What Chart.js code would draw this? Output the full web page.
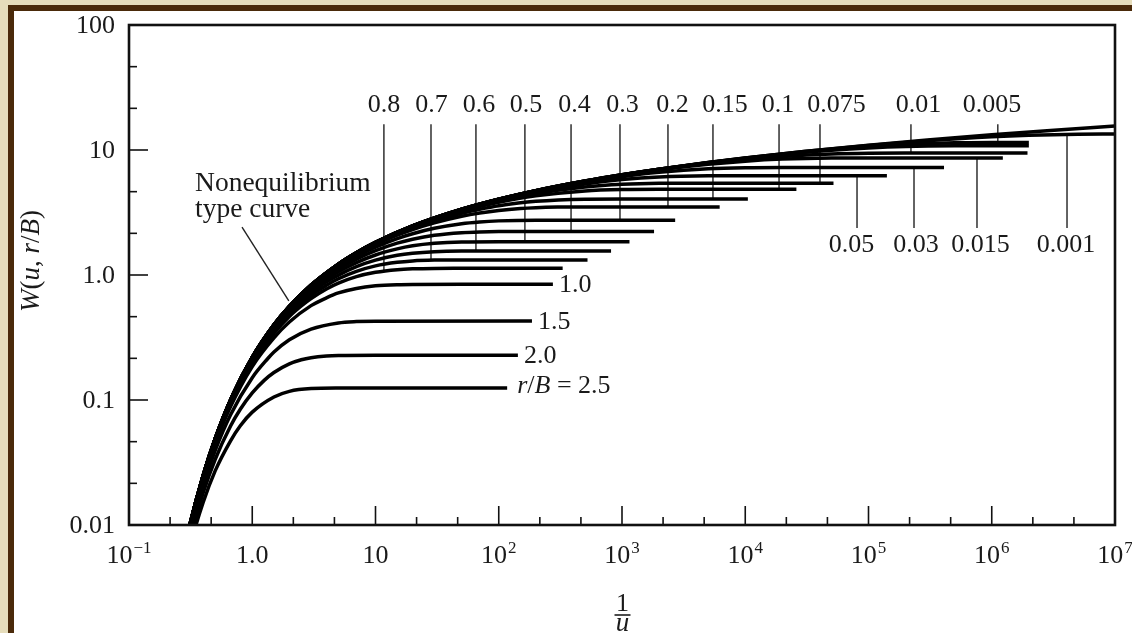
<!DOCTYPE html>
<html>
<head>
<meta charset="utf-8">
<script src="https://cdn.jsdelivr.net/npm/chart.js@4.4.0/dist/chart.umd.min.js"></script>
<style>
  html, body { margin: 0; padding: 0; width: 1132px; height: 633px; overflow: hidden; background: #e6ddbb; }
  #frame { position: absolute; left: 8px; top: 5px; width: 1300px; height: 800px;
           border-left: 6px solid #4a2a0a; border-top: 6px solid #4a2a0a; background: #fff; }
  #wrap { position: absolute; left: 0; top: 0; width: 1132px; height: 633px; }
</style>
</head>
<body>
<div id="frame"></div>
<div id="wrap"><canvas id="chart" width="1132" height="633"></canvas></div>
<script>
// [1/u, W] pairs
const theis = [[0.25,0.00378],[0.3,0.0086],[0.4,0.0249],[0.5,0.0489],[0.7,0.1114],[1,0.2194],[1.5,0.399],
  [2,0.5598],[3,0.829],[5,1.2227],[7,1.5067],[10,1.8229],[20,2.4679],[50,3.3547],[100,4.0379],[200,4.7261],
  [500,5.6394],[1000,6.3315],[2000,7.0242],[5000,7.9404],[1e4,8.6332],[3e4,9.7318],[1e5,10.9357],
  [3e5,12.0343],[1e6,13.2383],[3e6,14.337],[1e7,15.5409]];

const rb2_5 = [[0.25,0.0028],[0.3,0.0059],[0.4,0.0152],[0.5,0.0271],[0.667,0.0472],[0.8,0.0623],[1,0.08],
  [1.5,0.1058],[2,0.1173],[3,0.1234],[5,0.1246],[10,0.1247],[117,0.1247]];
const rb2_0 = [[0.25,0.00307],[0.3,0.00675],[0.4,0.01814],[0.5,0.03343],[0.667,0.06195],[0.8,0.08429],
  [1,0.1139],[1.25,0.1435],[1.5,0.1659],[2,0.1944],[2.5,0.2097],[3,0.2179],[4,0.2247],[5,0.2268],
  [10,0.2278],[143,0.2278]];
const rb1_5 = [[0.25,0.00336],[0.3,0.00749],[0.4,0.02084],[0.5,0.03944],[0.667,0.07622],[1,0.15095],
  [1.333,0.2138],[1.5,0.2421],[2,0.3038],[3,0.3694],[5,0.4136],[7,0.424],[10,0.4271],[186,0.4276]];
const rb1_0 = [[0.25,0.00358],[0.3,0.00808],[0.4,0.02301],[0.5,0.04444],[0.667,0.0886],[1,0.18547],
  [1.5,0.3144],[2,0.4206],[3,0.569],[4,0.6565],[5,0.7185],[7,0.7808],[10,0.819],[15,0.8372],[20,0.8409],
  [50,0.842],[275,0.842]];
const rb0_8 = [[0.25,0.00365],[0.3,0.00825],[0.4,0.02368],[0.5,0.04599],[0.667,0.09254],[1,0.19697],
  [1.5,0.3414],[2,0.46575],[2.5,0.5654],[3,0.648],[4,0.7736],[5,0.8616],[7,0.9712],[10,1.0515],
  [15,1.1039],[20,1.1208],[30,1.1292],[50,1.1306],[330,1.1306]];
const rb0_7 = [[0.25,0.00368],[0.3,0.00833],[0.4,0.02396],[0.5,0.04666],[0.667,0.09424],[1,0.20199],
  [1.5,0.3534],[2,0.48601],[3,0.6876],[4,0.8264],[5,0.9326],[7,1.0696],[10,1.1831],[15,1.2635],
  [20,1.2955],[30,1.3153],[50,1.3207],[525,1.321]];
const rb0_6 = [[0.25,0.00371],[0.3,0.0084],[0.4,0.02421],[0.5,0.04724],[0.667,0.09574],[1,0.20645],
  [1.5,0.3642],[2,0.5044],[2.5,0.62094],[3,0.7161],[4,0.8807],[5,0.9986],[7,1.1665],[10,1.3147],
  [15,1.438],[20,1.4937],[30,1.5363],[50,1.5529],[100,1.555],[815,1.555]];
const rb0_5 = [[0.25,0.00373],[0.3,0.00846],[0.4,0.02442],[0.5,0.04774],[0.667,0.09702],[1,0.21031],
  [1.5,0.3736],[2,0.52062],[3,0.7474],[4,0.9244],[5,1.0611],[7,1.2572],[10,1.4461],[15,1.6177],
  [20,1.7114],[30,1.7923],[50,1.8382],[100,1.8485],[1150,1.8488]];
const rb0_4 = [[0.25,0.00375],[0.3,0.00851],[0.4,0.02459],[0.5,0.04815],[0.667,0.09808],[1,0.21353],
  [1.5,0.3815],[2,0.53433],[3,0.7743],[4,0.96547],[5,1.1145],[7,1.3399],[10,1.5644],[15,1.7973],
  [20,1.933],[30,2.0785],[50,2.181],[70,2.2125],[100,2.2254],[200,2.2291],[1820,2.2291]];
const rb0_3 = [[0.25,0.00376],[0.3,0.00855],[0.4,0.02473],[0.5,0.04848],[0.667,0.09893],[1,0.21607],
  [1.5,0.3878],[2,0.5453],[3,0.7961],[4,0.99899],[5,1.16022],[7,1.411],[10,1.6728],[15,1.9573],
  [20,2.1393],[30,2.3625],[50,2.5727],[70,2.6573],[100,2.7102],[200,2.7428],[2700,2.7449]];
const rb0_2 = [[0.25,0.00377],[0.3,0.00857],[0.4,0.02483],[0.5,0.04871],[0.667,0.09953],[1,0.2179],
  [1.5,0.3924],[2,0.55328],[3,0.8121],[4,1.02385],[5,1.19436],[7,1.4588],[10,1.7527],[15,2.0828],
  [20,2.311],[30,2.6152],[50,2.9521],[70,3.135],[100,3.2875],[150,3.4059],[200,3.4567],[300,3.4924],
  [500,3.5043],[6200,3.5054]];
const rb0_15 = [[0.25,0.00378],[0.3,0.00858],[0.4,0.02487],[0.5,0.04879],[0.667,0.09975],[1,0.21855],
  [1.5,0.394],[2,0.55611],[3,0.818],[4,1.03273],[5,1.20664],[7,1.478],[10,1.78294],[13.33,2.03],
  [20,2.3841],[30,2.7203],[50,3.1173],[70,3.3535],[100,3.577],[200,3.886],[500,4.044],[1000,4.0596],
  [10500,4.0601]];
const rb0_1 = [[0.25,0.00378],[0.3,0.0086],[0.4,0.0249],[0.5,0.04885],[0.667,0.0999],[1,0.21901],
  [1.5,0.398],[2,0.55814],[3,0.8257],[4,1.03913],[5,1.2155],[7,1.4953],[10,1.80499],[13.33,2.06123],
  [20,2.4271],[30,2.7929],[50,3.2516],[100,3.815],[200,4.296],[500,4.7078],[1000,4.8292],[2000,4.853],
  [26000,4.8541]];
const rb0_075 = [[0.25,0.00378],[0.3,0.0086],[0.4,0.0249],[0.5,0.0489],[0.7,0.1113],[1,0.2192],
  [1.5,0.3985],[2,0.5588],[3,0.8272],[5,1.2186],[7,1.5003],[10,1.8128],[20,2.4446],[26.67,2.7128],
  [50,3.2943],[100,3.9118],[200,4.4739],[500,5.0548],[1000,5.3105],[2000,5.409],[5000,5.4255],
  [52000,5.4256]];
const rb0_05 = [[0.25,0.00378],[0.3,0.0086],[0.4,0.0249],[0.5,0.0489],[0.7,0.1114],[1,0.2193],
  [1.5,0.3988],[2,0.5596],[3,0.828],[5,1.2209],[7,1.5035],[10,1.8184],[20,2.4576],[30,2.8407],
  [40,3.1149],[50,3.328],[70,3.6466],[100,3.9809],[200,4.6098],[500,5.3551],[1000,5.7977],
  [2000,6.0835],[5000,6.2186],[1e4,6.2295],[141000,6.2298]];
const rb0_03 = [[0.25,0.00378],[0.3,0.0086],[0.4,0.0249],[0.5,0.0489],[0.7,0.1114],[1,0.2194],
  [1.5,0.399],[2,0.5597],[3,0.8285],[5,1.2222],[7,1.5055],[10,1.8213],[20,2.4642],[30,2.8511],
  [50,3.3444],[66.67,3.6238],[100,4.0172],[200,4.6834],[500,5.5319],[1000,6.1207],[2000,6.6223],
  [5000,7.0688],[1e4,7.2127],[2e4,7.2455],[5e4,7.2476],[410000,7.2476]];
const rb0_015 = theis.slice(0, 12).concat([[20,2.467],[50,3.3521],[100,4.0326],[133.3,4.3161],
  [200,4.7153],[500,5.612],[1000,6.2767],[2000,6.9156],[5000,7.6784],[1e4,8.1416],[2e4,8.4532],
  [5e4,8.6154],[1e5,8.6315],[1.23e6,8.632]]);
const rb0_01 = theis.slice(0, 12).concat([[20,2.4675],[50,3.3536],[100,4.0355],[200,4.7212],
  [500,5.6271],[1000,6.3069],[2000,6.975],[5000,7.8192],[1e4,8.3982],[2e4,8.8827],[5e4,9.296],
  [1e5,9.4176],[2e5,9.4414],[1.95e6,9.4425]]);
// unlabeled curve between 0.005 and 0.001
const rbUnlabeled = theis.slice(0, 17).concat([[1000,6.3273],[2000,7.0172],[5000,7.924],[1e4,8.601],
  [2e4,9.263],[5e4,10.087],[1e5,10.636],[2e5,11.072],[5e5,11.403],[1e6,11.476],[2e6,11.486]]);
const rb0_005 = theis.slice(0, 15).concat([[200,4.7249],[400,5.4143],[1000,6.3258],[2000,7.0122],
  [5000,7.9098],[1e4,8.5722],[2e4,9.2056],[5e4,9.9534],[1e5,10.3965],[2e5,10.6825],[5e5,10.8177],
  [1e6,10.8287],[2e6,10.829]]);
const rb0_001 = theis.slice(0, 18).concat([[2000,7.0242],[5000,7.94],[1e4,8.63],[3e4,9.72],[1e5,10.88],
  [3e5,11.85],[1e6,12.75],[2e6,13.1],[5e6,13.35],[1e7,13.45]]);

const curves = [theis, rb2_5, rb2_0, rb1_5, rb1_0, rb0_8, rb0_7, rb0_6, rb0_5, rb0_4, rb0_3, rb0_2,
  rb0_15, rb0_1, rb0_075, rb0_05, rb0_03, rb0_015, rb0_01, rbUnlabeled, rb0_005, rb0_001];

// labels written at the right end of the four lowest curves
const endLabelCurves = [rb1_0, rb1_5, rb2_0, rb2_5];
const endLabels = ['1.0', '1.5', '2.0', 'r/B = 2.5'];

// r/B labels on leader lines above and below the curves
const topLabels = ['0.8','0.7','0.6','0.5','0.4','0.3','0.2','0.15','0.1','0.075','0.01','0.005'];
const topLeaderAt = [11.7, 28.2, 65.3, 163, 386, 963, 2360, 5470, 18800, 40400, 221000, 1.12e6];
const topTextAt = [11.7, 28.5, 69.2, 166, 412, 1009, 2570, 6850, 18400, 55000, 254700, 1.005e6];
const topLabelCurves = [rb0_8, rb0_7, rb0_6, rb0_5, rb0_4, rb0_3, rb0_2, rb0_15, rb0_1, rb0_075, rb0_01, rb0_005];
const bottomLabels = ['0.05', '0.03', '0.015', '0.001'];
const bottomLeaderAt = [80700, 234000, 759000, 4.08e6];
const bottomTextAt = [72800, 242700, 811000, 4.01e6];
const bottomLabelCurves = [rb0_05, rb0_03, rb0_015, rb0_001];
const leaderTop = 16.1;
const leaderBottom = 2.38;
const theisPointer = [[0.826, 2.42], [1.98, 0.62]];

const xTicks = [0.1, 1, 10, 1e2, 1e3, 1e4, 1e5, 1e6, 1e7];
const xTickBase = ['10', '1.0', '10', '10', '10', '10', '10', '10', '10'];
const xTickExp = ['\u22121', '', '', '2', '3', '4', '5', '6', '7'];
const yTicks = [0.01, 0.1, 1, 10, 100];
const yTickLabels = ['0.01', '0.1', '1.0', '10', '100'];

const SERIF = "'Liberation Serif', 'Times New Roman', serif";
const INK = '#1a1a1a';
const NUM = 26;

function valueAt(pts, x) {
  for (let i = 1; i < pts.length; i++) {
    if (x <= pts[i][0]) {
      const p0 = pts[i - 1], p1 = pts[i];
      const f = Math.log(x / p0[0]) / Math.log(p1[0] / p0[0]);
      return Math.exp(Math.log(p0[1]) + f * Math.log(p1[1] / p0[1]));
    }
  }
  return pts[pts.length - 1][1];
}

function toXY(pts) {
  return pts.map(p => ({ x: p[0], y: p[1] }));
}

function richText(ctx, parts, x, y, size, align) {
  let w = 0;
  parts.forEach(p => {
    ctx.font = (p[1] ? 'italic ' : '') + size + 'px ' + SERIF;
    w += ctx.measureText(p[0]).width;
  });
  let cx = align === 'center' ? x - w / 2 : x;
  ctx.textAlign = 'left';
  ctx.textBaseline = 'middle';
  parts.forEach(p => {
    ctx.font = (p[1] ? 'italic ' : '') + size + 'px ' + SERIF;
    ctx.fillText(p[0], cx, y);
    cx += ctx.measureText(p[0]).width;
  });
}

const datasets = [];
curves.forEach(c => {
  datasets.push({ data: toXY(c), borderColor: '#000', borderWidth: 3.5, showLine: true,
    pointRadius: 0, cubicInterpolationMode: 'monotone' });
});
topLeaderAt.forEach((x, i) => {
  datasets.push({ data: [{ x: x, y: leaderTop }, { x: x, y: valueAt(topLabelCurves[i], x) }],
    borderColor: '#222', borderWidth: 1.4, showLine: true, pointRadius: 0 });
});
bottomLeaderAt.forEach((x, i) => {
  datasets.push({ data: [{ x: x, y: valueAt(bottomLabelCurves[i], x) }, { x: x, y: leaderBottom }],
    borderColor: '#222', borderWidth: 1.4, showLine: true, pointRadius: 0 });
});
datasets.push({ data: toXY(theisPointer), borderColor: '#222', borderWidth: 1.4, showLine: true, pointRadius: 0 });

const decor = {
  id: 'decor',
  afterDraw(chart) {
    const ctx = chart.ctx, a = chart.chartArea;
    const xs = chart.scales.x, ys = chart.scales.y;
    ctx.save();
    ctx.strokeStyle = '#111';
    ctx.fillStyle = INK;

    // inward ticks, two minor marks per decade
    ctx.lineWidth = 1.6;
    for (let k = -1; k < 7; k++) {
      for (let m = 0; m < 3; m++) {
        const px = xs.getPixelForValue(Math.pow(10, k + m / 3));
        ctx.beginPath();
        ctx.moveTo(px, a.bottom);
        ctx.lineTo(px, a.bottom - (m === 0 ? 19 : 8));
        ctx.stroke();
      }
    }
    for (let k = -2; k < 2; k++) {
      for (let m = 0; m < 3; m++) {
        const py = ys.getPixelForValue(Math.pow(10, k + m / 3));
        ctx.beginPath();
        ctx.moveTo(a.left, py);
        ctx.lineTo(a.left + (m === 0 ? 19 : 8), py);
        ctx.stroke();
      }
    }
    ctx.lineWidth = 2.6;
    ctx.strokeRect(a.left, a.top, a.right - a.left, a.bottom - a.top);

    // x tick labels
    xTicks.forEach((v, i) => {
      const px = xs.getPixelForValue(v);
      ctx.font = NUM + 'px ' + SERIF;
      const wb = ctx.measureText(xTickBase[i]).width;
      ctx.font = '17px ' + SERIF;
      const we = xTickExp[i] ? ctx.measureText(xTickExp[i]).width + 1 : 0;
      const x0 = px - (wb + we) / 2;
      ctx.textAlign = 'left';
      ctx.textBaseline = 'middle';
      ctx.font = NUM + 'px ' + SERIF;
      ctx.fillText(xTickBase[i], x0, a.bottom + 31);
      if (xTickExp[i]) {
        ctx.font = '17px ' + SERIF;
        ctx.fillText(xTickExp[i], x0 + wb + 1, a.bottom + 24);
      }
    });
    // y tick labels
    ctx.font = NUM + 'px ' + SERIF;
    ctx.textAlign = 'right';
    ctx.textBaseline = 'middle';
    yTicks.forEach((v, i) => {
      ctx.fillText(yTickLabels[i], a.left - 14, ys.getPixelForValue(v) + 1);
    });

    // axis titles
    ctx.save();
    ctx.translate(32, (a.top + a.bottom) / 2 - 14);
    ctx.rotate(-Math.PI / 2);
    richText(ctx, [['W', true], ['(', false], ['u', true], [', ', false], ['r', true], ['/', false],
      ['B', true], [')', false]], 0, 0, 27, 'center');
    ctx.restore();
    const cx = (a.left + a.right) / 2 + 0.5;
    ctx.textAlign = 'center';
    ctx.font = NUM + 'px ' + SERIF;
    ctx.fillText('1', cx, a.bottom + 79);
    ctx.lineWidth = 1.5;
    ctx.beginPath();
    ctx.moveTo(cx - 8, a.bottom + 90);
    ctx.lineTo(cx + 8, a.bottom + 90);
    ctx.stroke();
    ctx.font = 'italic 27px ' + SERIF;
    ctx.fillText('u', cx, a.bottom + 99);

    // r/B labels
    ctx.font = NUM + 'px ' + SERIF;
    ctx.textAlign = 'center';
    topLabels.forEach((t, i) => {
      ctx.fillText(t, xs.getPixelForValue(topTextAt[i]), ys.getPixelForValue(leaderTop) - 19);
    });
    bottomLabels.forEach((t, i) => {
      ctx.fillText(t, xs.getPixelForValue(bottomTextAt[i]), ys.getPixelForValue(leaderBottom) + 17);
    });
    endLabelCurves.forEach((c, i) => {
      const last = c[c.length - 1];
      const px = xs.getPixelForValue(last[0]), py = ys.getPixelForValue(last[1]);
      if (i === endLabels.length - 1) {
        richText(ctx, [['r', true], ['/', false], ['B', true], [' = 2.5', false]], px + 10, py - 2, NUM, 'left');
      } else {
        ctx.textAlign = 'left';
        ctx.font = NUM + 'px ' + SERIF;
        ctx.fillText(endLabels[i], px + 6, py + 1);
      }
    });

    // Theis curve caption
    const tx = xs.getPixelForValue(theisPointer[0][0]) - 47;
    const ty = ys.getPixelForValue(theisPointer[0][1]);
    ctx.textAlign = 'left';
    ctx.font = '27.5px ' + SERIF;
    ctx.fillText('Nonequilibrium', tx, ty - 43);
    ctx.fillText('type curve', tx, ty - 17);
    ctx.restore();
  }
};

new Chart(document.getElementById('chart').getContext('2d'), {
  type: 'scatter',
  data: { datasets: datasets },
  options: {
    responsive: false,
    animation: false,
    layout: { padding: { left: 129, top: 25, right: 17, bottom: 108 } },
    plugins: { legend: { display: false }, tooltip: { enabled: false } },
    scales: {
      x: { type: 'logarithmic', min: 0.1, max: 1e7, display: false },
      y: { type: 'logarithmic', min: 0.01, max: 100, display: false }
    }
  },
  plugins: [decor]
});
</script>
</body>
</html>
